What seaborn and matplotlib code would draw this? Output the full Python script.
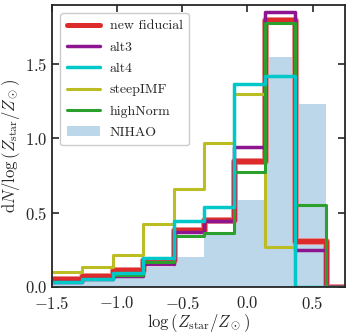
import matplotlib
matplotlib.use("Agg")
import matplotlib.pyplot as plt
import numpy as np
import seaborn as sns

# bin edges (last bin is empty so the steps drop back to zero)
edges = [-1.5, -1.2667, -1.0333, -0.8, -0.5667, -0.3333, -0.1, 0.1333, 0.3667, 0.6, 0.8333]

new_fiducial = [0.05, 0.07, 0.11, 0.18, 0.38, 0.45, 0.85, 1.80, 0.31, 0.0]
alt3 = [0.03, 0.05, 0.07, 0.15, 0.37, 0.44, 0.94, 1.85, 0.25, 0.0]
alt4 = [0.03, 0.05, 0.09, 0.19, 0.44, 0.54, 1.37, 1.42, 0.0, 0.0]
steep_imf = [0.10, 0.135, 0.21, 0.42, 0.66, 0.97, 1.30, 0.27, 0.0, 0.0]
high_norm = [0.03, 0.05, 0.08, 0.165, 0.34, 0.36, 0.77, 1.78, 0.55, 0.0]
nihao = [0.02, 0.035, 0.06, 0.13, 0.20, 0.36, 0.585, 1.55, 1.23, 0.0]

sns.set_style("ticks")
plt.rcParams["font.family"] = "serif"
plt.rcParams["font.serif"] = ["cmr10", "DejaVu Serif"]
plt.rcParams["mathtext.fontset"] = "cm"
plt.rcParams["axes.formatter.use_mathtext"] = True
plt.rcParams["axes.unicode_minus"] = True

centers = 0.5 * (np.array(edges[:-1]) + np.array(edges[1:]))

fig = plt.figure(figsize=(3.49, 3.36), dpi=100)
ax = fig.add_axes([0.149, 0.147, 0.840, 0.838])

sns.histplot(x=centers, weights=nihao, bins=edges, element="bars", fill=True,
             color="#bcd6ea", alpha=1.0, linewidth=0, label="NIHAO", ax=ax)

# red has a pale halo round it
sns.histplot(x=centers, weights=new_fiducial, bins=edges, element="step", fill=False,
             color="#e88a8a", linewidth=5.0, ax=ax)
sns.histplot(x=centers, weights=new_fiducial, bins=edges, element="step", fill=False,
             color="#dd2a2a", linewidth=3.6, label="new fiducial", ax=ax)
sns.histplot(x=centers, weights=alt3, bins=edges, element="step", fill=False,
             color="#8e1590", linewidth=2.5, label="alt3", ax=ax)
sns.histplot(x=centers, weights=steep_imf, bins=edges, element="step", fill=False,
             color="#bcbd22", linewidth=2.2, label="steepIMF", ax=ax)
sns.histplot(x=centers, weights=high_norm, bins=edges, element="step", fill=False,
             color="#2ca02c", linewidth=2.2, label="highNorm", ax=ax)
sns.histplot(x=centers, weights=alt4, bins=edges, element="step", fill=False,
             color="#00c8c8", linewidth=2.5, label="alt4", ax=ax)

ax.set_xlim(-1.5, 0.75)
ax.set_ylim(0, 1.9)
ax.set_xticks([-1.5, -1.0, -0.5, 0.0, 0.5])
ax.set_yticks([0.0, 0.5, 1.0, 1.5])
ax.set_xticklabels(["$-1.5$", "$-1.0$", "$-0.5$", "$0.0$", "$0.5$"])
ax.set_yticklabels(["$0.0$", "$0.5$", "$1.0$", "$1.5$"])
ax.tick_params(direction="in", top=True, right=True, length=5, width=1.2, labelsize=12)
ax.tick_params(axis="x", pad=6)
for s in ax.spines.values():
    s.set_linewidth(1.3)

ax.set_xlabel(r"$\log\left(Z_\mathrm{star}/Z_\odot\right)$", fontsize=12, labelpad=0)
ax.set_ylabel(r"$\mathrm{d}N/\log\left(Z_\mathrm{star}/Z_\odot\right)$", fontsize=12, labelpad=2)

handles, labels = ax.get_legend_handles_labels()
order = ["new fiducial", "alt3", "alt4", "steepIMF", "highNorm", "NIHAO"]
hmap = dict(zip(labels, handles))
ax.legend([hmap[k] for k in order], order, loc="upper left", fontsize=10,
          frameon=True, fancybox=True, edgecolor="#cccccc", framealpha=1,
          handlelength=2.4, handletextpad=0.7, labelspacing=0.62, borderpad=0.45,
          bbox_to_anchor=(0.005, 0.995))

fig.savefig("out.png", dpi=100)
